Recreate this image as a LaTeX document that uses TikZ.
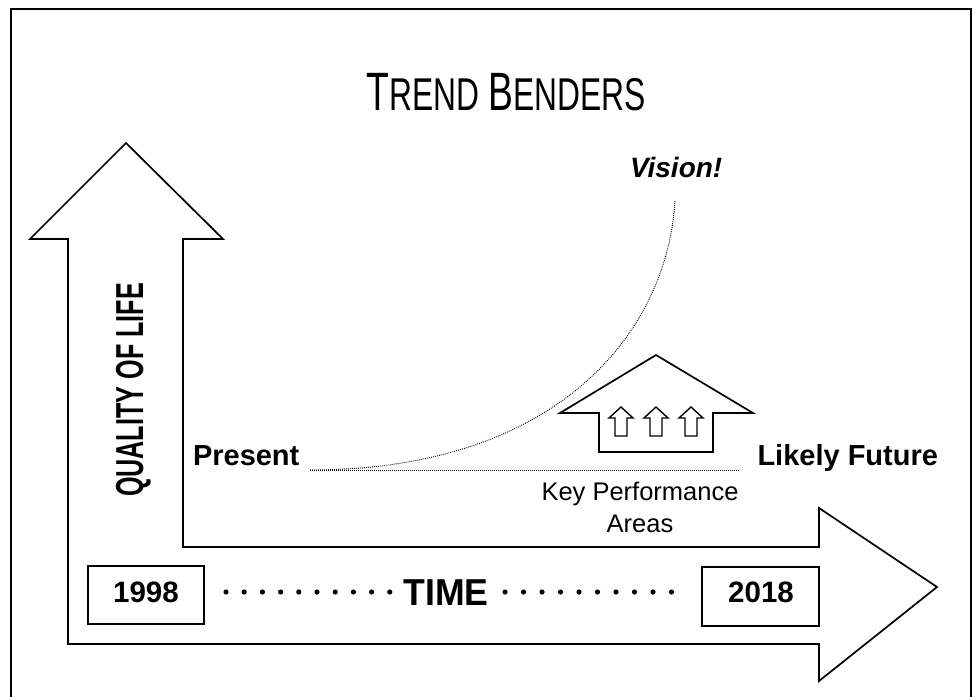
\documentclass[tikz,border=0pt]{standalone}
\usepackage{fontspec}
\setmainfont{Liberation Sans}
\usepackage{graphicx}
\begin{document}
\begin{tikzpicture}[x=1pt,y=-1pt,
  outline/.style={draw=black,line width=1.7pt,line join=miter},
  yearbox/.style={draw=black,line width=1.6pt,minimum width=116pt,minimum height=58pt,inner sep=0pt},
  finedots/.style={draw=black,line width=0.9pt,dash pattern=on 0.9pt off 1.1pt},
  lbl/.style={inner sep=0pt,outer sep=0pt}]
\clip (0,0) rectangle (977,696);
\fill[white] (0,0) rectangle (977,696);
% frame
\draw[line width=1.5pt] (11,720) -- (11,9) -- (971,9) -- (971,720);
% big L arrow
\draw[outline] (183,547) -- (819,547) -- (819,508) -- (937,587) -- (819,681) -- (819,644)
  -- (68,644) -- (68,239) -- (30,239) -- (126,143) -- (223,239) -- (183,239) -- cycle;
% title
\node[lbl,anchor=base] (title) at (506,110) {\scalebox{0.69}[1]{\fontsize{54}{56}\selectfont T\fontsize{46}{48}\selectfont REND \fontsize{54}{56}\selectfont B\fontsize{46}{48}\selectfont ENDERS}};
% vision
\node[lbl,anchor=base west] (vision) at (630,177) {\fontsize{28}{30}\selectfont\bfseries\itshape Vision!};
% present / likely future
\node[lbl,anchor=base west] (present) at (193,465) {\fontsize{29}{30}\selectfont\bfseries Present};
\node[lbl,anchor=base east] (future) at (938,465) {\fontsize{29}{30}\selectfont\bfseries Likely Future};
% lines
\coordinate (start) at (310,470);
\coordinate (vtop) at (675,200);
\coordinate (hend) at (740,470);
\draw[finedots] (start) -- (hend);
\draw[finedots] (start) .. controls (560,470) and (668,330) .. (vtop);
% KPA house arrow
\draw[outline] (599,413) -- (560,413) -- (656,355) -- (753,413) -- (713,413) -- (713,452) -- (599,452) -- cycle;
\foreach \cx in {621,656,691}{
  \draw[line width=1.4pt,line join=miter] (\cx-6,436) -- (\cx-6,418) -- (\cx-12,418) -- (\cx,407) -- (\cx+12,418) -- (\cx+6,418) -- (\cx+6,436) -- cycle;
}
\node[lbl,anchor=base] (kpa1) at (640,500) {\fontsize{25.5}{27}\selectfont Key Performance};
\node[lbl,anchor=base] (kpa2) at (640,532) {\fontsize{25.5}{27}\selectfont Areas};
% vertical label
\node[lbl,rotate=90,anchor=base] (qol) at (143,390) {\scalebox{0.645}[1]{\fontsize{39}{40}\selectfont\bfseries QUALITY OF LIFE}};
% year boxes
\node[yearbox] (y1998) at (146,595) {};
\node[lbl,anchor=base] (t1998) at (146,602) {\fontsize{29.5}{30}\selectfont\bfseries 1998};
\node[yearbox,minimum height=59pt,minimum width=117pt] (y2018) at (760.5,596.5) {};
\node[lbl,anchor=base] (t2018) at (761,602) {\fontsize{29.5}{30}\selectfont\bfseries 2018};
% time
\node[lbl,anchor=base] (time) at (446,605) {\scalebox{0.95}[1]{\fontsize{37.5}{38}\selectfont\bfseries TIME}};
\foreach \i in {0,...,9}{
  \fill (226+18.2*\i,592) circle (2.6);
  \fill (505+18.5*\i,592) circle (2.6);
}
\end{tikzpicture}
\end{document}
